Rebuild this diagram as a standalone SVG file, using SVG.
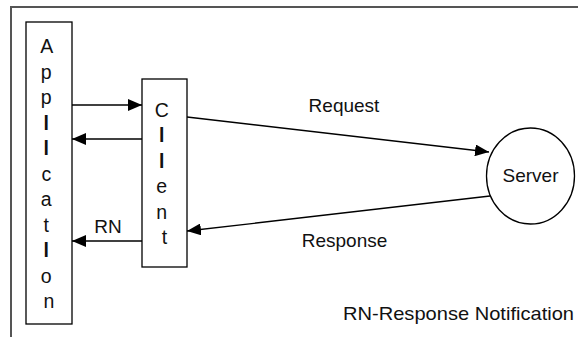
<svg xmlns="http://www.w3.org/2000/svg" width="578" height="337" viewBox="0 0 578 337">
  <defs>
    <marker id="ah" markerWidth="14" markerHeight="12" refX="14" refY="6" orient="auto" markerUnits="userSpaceOnUse">
      <path d="M0,0 L14,6 L0,12 Z" fill="#000"/>
    </marker>
    <style>
      text { font-family: "Liberation Sans", Arial, sans-serif; font-size: 19px; fill: #111; }
      .v { font-size: 19.5px; }
      .box { fill: #fff; stroke: #000; stroke-width: 1.3; }
      .conn { stroke: #000; stroke-width: 1.3; fill: none; marker-end: url(#ah); }
      .frame { stroke: #555; stroke-width: 2; fill: none; }
    </style>
  </defs>
  <rect width="578" height="337" fill="#fff"/>
  <path class="frame" d="M11,337 L11,7 L578,7"/>

  <g id="application">
    <rect class="box" x="26" y="22" width="46" height="302"/>
    <text class="v" text-anchor="middle">
      <tspan x="49" y="53">A</tspan>
      <tspan x="49" y="78.5">p</tspan>
      <tspan x="49" y="104">p</tspan>
      <tspan x="49" y="129.5" font-weight="bold">l</tspan>
      <tspan x="49" y="155" font-weight="bold">l</tspan>
      <tspan x="49" y="180.5">c</tspan>
      <tspan x="49" y="206">a</tspan>
      <tspan x="49" y="231.5">t</tspan>
      <tspan x="49" y="257" font-weight="bold">l</tspan>
      <tspan x="49" y="282.5">o</tspan>
      <tspan x="49" y="308">n</tspan>
    </text>
  </g>

  <g id="client">
    <rect class="box" x="142" y="79" width="45" height="188"/>
    <text class="v" text-anchor="middle">
      <tspan x="164.5" y="117">C</tspan>
      <tspan x="164.5" y="142" font-weight="bold">l</tspan>
      <tspan x="164.5" y="167.5" font-weight="bold">l</tspan>
      <tspan x="164.5" y="193">e</tspan>
      <tspan x="164.5" y="218.5">n</tspan>
      <tspan x="164.5" y="244">t</tspan>
    </text>
  </g>

  <g id="server">
    <ellipse class="box" cx="530.5" cy="176" rx="44" ry="48"/>
    <text x="530.5" y="182" text-anchor="middle">Server</text>
  </g>

  <g id="connectors">
    <line class="conn" x1="72" y1="105" x2="142" y2="105"/>
    <line class="conn" x1="142" y1="139" x2="72" y2="139"/>
    <line class="conn" x1="142" y1="241" x2="72" y2="241"/>
    <line class="conn" x1="187" y1="117" x2="489" y2="152"/>
    <line class="conn" x1="490" y1="196" x2="187" y2="231"/>
  </g>

  <g id="labels">
    <text x="108" y="233" text-anchor="middle">RN</text>
    <text x="344" y="112" text-anchor="middle">Request</text>
    <text x="344.5" y="247" text-anchor="middle">Response</text>
    <text x="343" y="320" textLength="231" lengthAdjust="spacingAndGlyphs">RN-Response Notification</text>
  </g>
</svg>
